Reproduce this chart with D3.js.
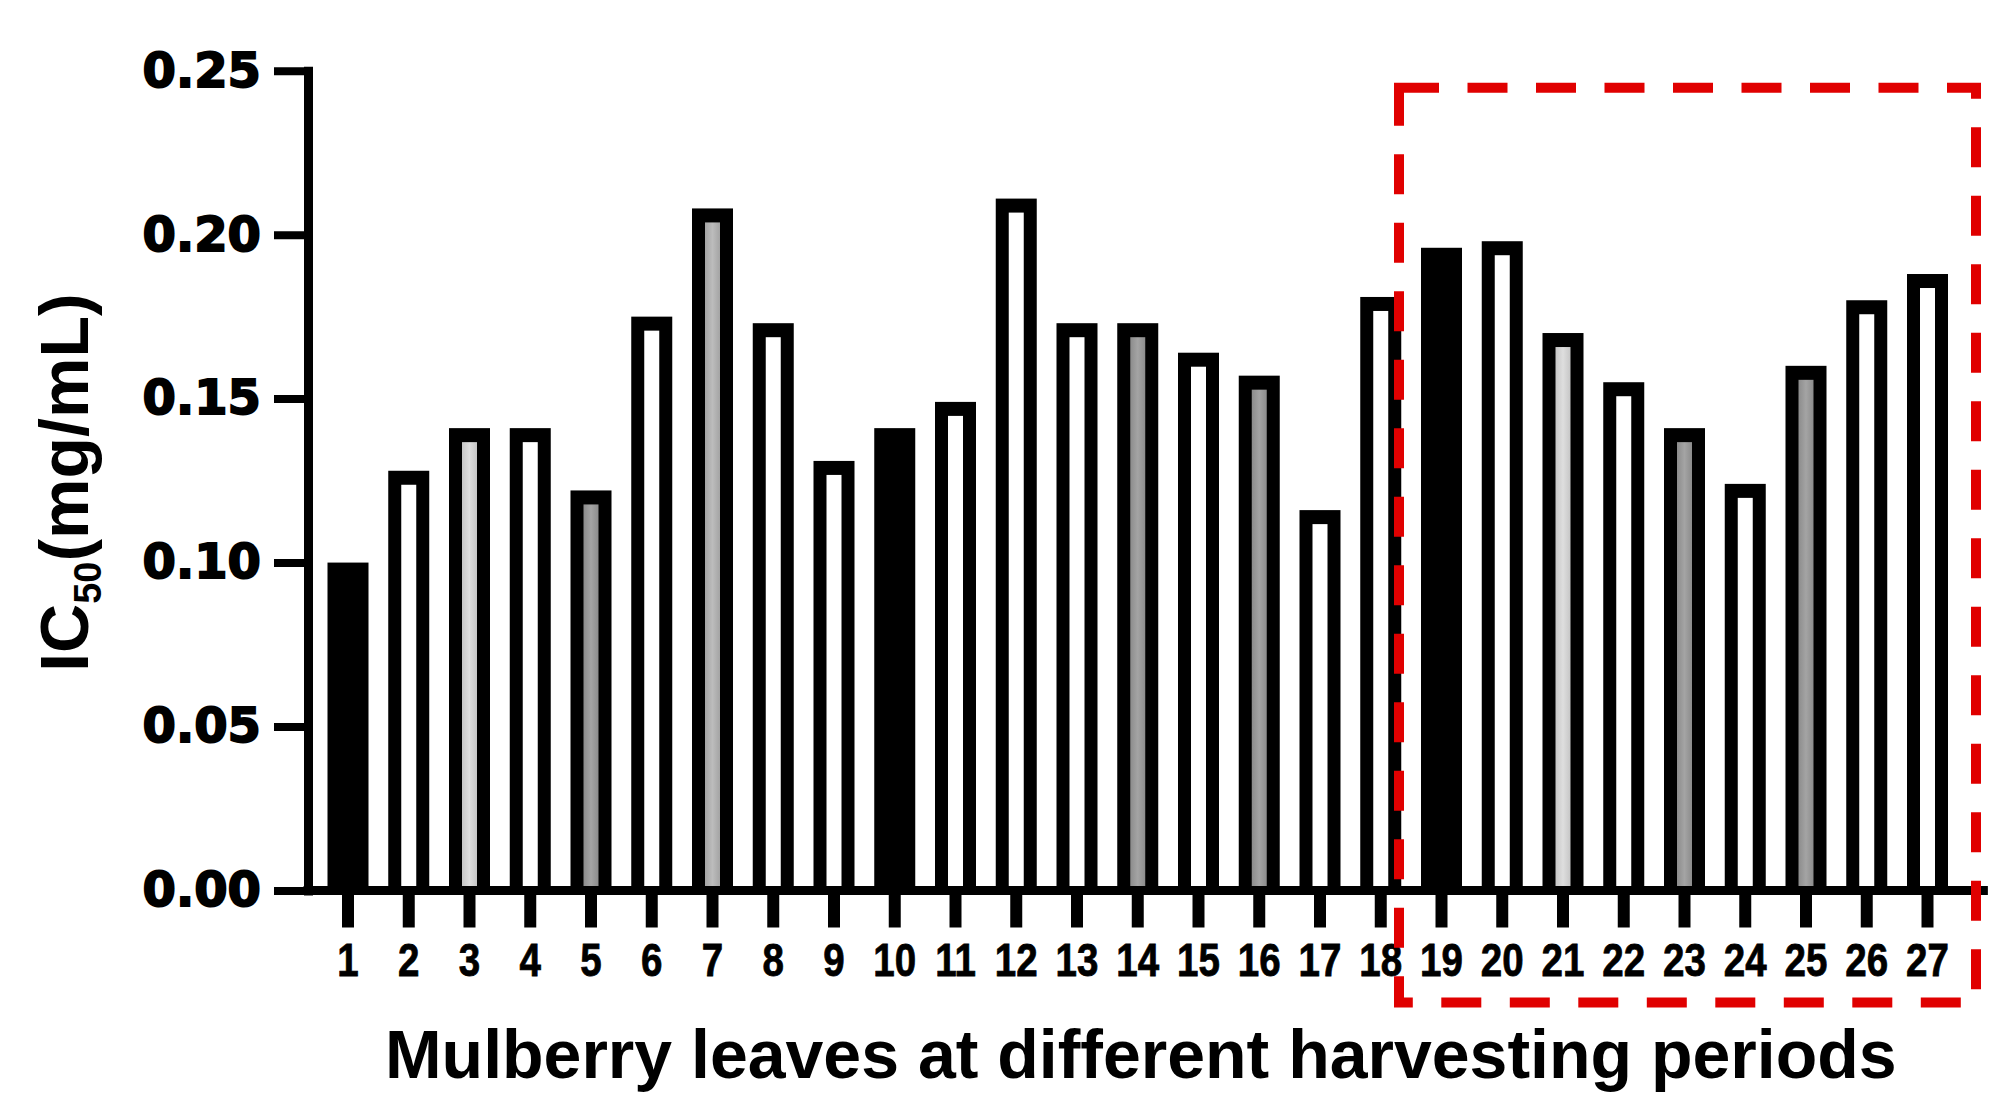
<!DOCTYPE html>
<html><head><meta charset="utf-8">
<script src="https://cdn.jsdelivr.net/npm/d3@7"></script>
<style>body{margin:0;background:#fff}</style>
</head><body>
<svg id="c" width="2015" height="1118" xmlns="http://www.w3.org/2000/svg"></svg>
<script>
// ---- data ----
const categories = ["1","2","3","4","5","6","7","8","9","10","11","12","13","14","15","16","17","18","19","20","21","22","23","24","25","26","27"];
const ic50Values = [0.100,0.128,0.141,0.141,0.122,0.175,0.208,0.173,0.131,0.141,0.149,0.211,0.173,0.173,0.164,0.157,0.116,0.181,0.196,0.198,0.170,0.155,0.141,0.124,0.160,0.180,0.188];
const barFills = ["black","white","light","white","grey","white","mid","white","white","black","white","white","white","grey","white","grey","white","white","black","white","light","white","grey","white","grey","white","white"];
const yTickValues = [0, 0.05, 0.10, 0.15, 0.20, 0.25];
const yTickLabels = ["0.00","0.05","0.10","0.15","0.20","0.25"];
const highlighted = ["19","20","21","22","23","24","25","26","27"];
const xTitle = "Mulberry leaves at different harvesting periods";

// ---- layout ----
const svg = d3.select("#c");
const W = 2015, H = 1118;
svg.append("rect").attr("width", W).attr("height", H).attr("fill", "#fff");

const step = 60.75;
const x = d3.scaleBand().domain(categories)
  .range([348 - step/2, 348 - step/2 + categories.length*step]).padding(0);
const y = d3.scaleLinear().domain([0, 0.25]).range([890.5, 70.7]);
const cx = c => x(c) + x.bandwidth()/2;
const barW = 41, border = 13, topBorder = 14;

// gradients
const defs = svg.append("defs");
function grad(id, edge, center) {
  const g = defs.append("linearGradient").attr("id", id).attr("x1","0").attr("x2","1").attr("y1","0").attr("y2","0");
  g.append("stop").attr("offset","0").attr("stop-color", edge);
  g.append("stop").attr("offset","0.5").attr("stop-color", center);
  g.append("stop").attr("offset","1").attr("stop-color", edge);
}
grad("g-light", "#c6c6c6", "#dedede");
grad("g-mid", "#a4a4a4", "#bcbcbc");
grad("g-grey", "#8c8c8c", "#a4a4a4");
const fillOf = f => f === "white" ? "#ffffff" : f === "light" ? "url(#g-light)" : f === "mid" ? "url(#g-mid)" : f === "grey" ? "url(#g-grey)" : "#000";

const data = categories.map((c, i) => ({c, v: ic50Values[i], f: barFills[i]}));

// bars: outer black body + inner fill
const bars = svg.append("g").attr("class", "bars");
bars.selectAll("rect.outer").data(data).join("rect").attr("class","outer")
  .attr("x", d => cx(d.c) - barW/2)
  .attr("y", d => y(d.v))
  .attr("width", barW)
  .attr("height", d => y(0) - y(d.v))
  .attr("fill", "#000");
bars.selectAll("rect.inner").data(data.filter(d => d.f !== "black")).join("rect").attr("class","inner")
  .attr("x", d => cx(d.c) - barW/2 + border)
  .attr("y", d => y(d.v) + topBorder)
  .attr("width", barW - 2*border)
  .attr("height", d => y(0) - y(d.v) - topBorder)
  .attr("fill", d => fillOf(d.f));

// y axis
const yAxis = svg.append("g").attr("transform", `translate(308,0)`)
  .call(d3.axisLeft(y).tickValues(yTickValues).tickFormat((d, i) => yTickLabels[i]).tickSize(34).tickSizeOuter(0).tickPadding(13));
yAxis.select(".domain").attr("stroke", "#000").attr("stroke-width", 9).attr("stroke-linecap", "square");
yAxis.selectAll(".tick line").attr("stroke", "#000").attr("stroke-width", 8);
yAxis.selectAll(".tick text").attr("fill", "#000").attr("stroke", "#000").attr("stroke-width", 1.8)
  .style("font-family", "'DejaVu Sans', sans-serif").style("font-weight", "bold").style("font-size", "48px");

// x axis
const xAxis = svg.append("g").attr("transform", `translate(0,${y(0)})`)
  .call(d3.axisBottom(x).tickSize(37).tickSizeOuter(0).tickPadding(15));
xAxis.select(".domain").remove();
xAxis.selectAll(".tick line").attr("stroke", "#000").attr("stroke-width", 12);
xAxis.selectAll(".tick text").attr("fill", "#000").attr("stroke", "#000").attr("stroke-width", 0.8)
  .attr("transform", "scale(0.82,1)")
  .style("font-family", "'Liberation Sans', Arial, sans-serif").style("font-weight", "bold").style("font-size", "47px");
xAxis.append("line")
  .attr("x1", 308 - 4.5).attr("x2", x.range()[1] + 30)
  .attr("y1", 0).attr("y2", 0)
  .attr("stroke", "#000").attr("stroke-width", 9);

// axis titles
svg.append("text")
  .attr("x", (x.range()[0] + x.range()[1]) / 2 + 3)
  .attr("y", 1078)
  .attr("text-anchor", "middle")
  .style("font-family", "'Liberation Sans', Arial, sans-serif").style("font-weight", "bold").style("font-size", "68px")
  .attr("fill", "#000")
  .text(xTitle);

const yt = svg.append("text")
  .attr("transform", `translate(88,${(y(0)+y(0.25))/2 + 2}) rotate(-90)`)
  .attr("text-anchor", "middle")
  .style("font-family", "'Liberation Sans', Arial, sans-serif").style("font-weight", "bold").style("font-size", "68px")
  .attr("fill", "#000");
yt.append("tspan").text("IC");
yt.append("tspan").attr("dy", 13).style("font-size", "38px").text("50");
yt.append("tspan").attr("dy", -13).text("(mg/mL)");

// highlight box around harvest periods 19-27
const hl0 = highlighted[0], hl1 = highlighted[highlighted.length - 1];
const bx0 = cx(hl0) - barW/2 - 22, bx1 = cx(hl1) + barW/2 + 28;
const by0 = y(0.25) + 17, by1 = y(0) + 112;
svg.append("rect")
  .attr("x", bx0).attr("y", by0)
  .attr("width", bx1 - bx0).attr("height", by1 - by0)
  .attr("fill", "none").attr("stroke", "#e00000").attr("stroke-width", 10)
  .attr("stroke-dasharray", "40 28.5").attr("stroke-dashoffset", 0);
</script>
</body></html>
